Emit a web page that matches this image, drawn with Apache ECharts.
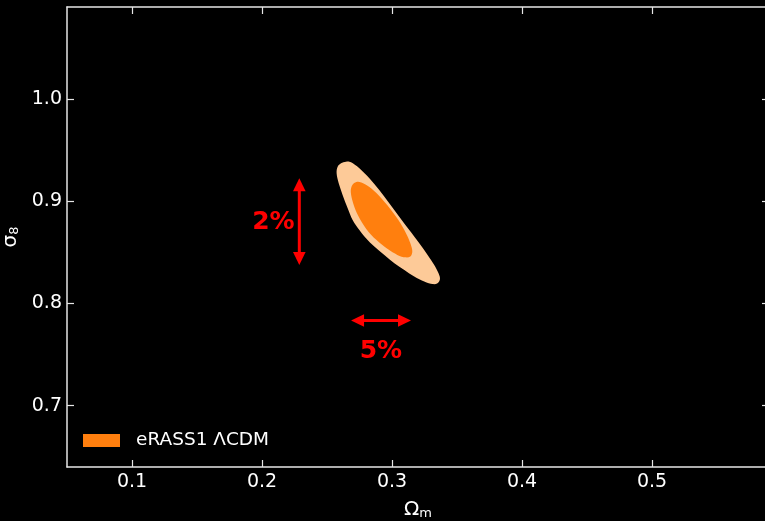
<!DOCTYPE html>
<html>
<head>
<meta charset="utf-8">
<script src="https://cdn.jsdelivr.net/npm/echarts@6/dist/echarts.min.js"></script>
<style>
  html, body { margin: 0; padding: 0; background: #000; }
  #chart { width: 765px; height: 521px; }
</style>
</head>
<body>
<div id="chart"></div>
<script>
// Axis ticks
const xTicks = [0.1, 0.2, 0.3, 0.4, 0.5];
const yTicks = [0.7, 0.8, 0.9, 1.0];

// eRASS1 LCDM posterior contours in (Omega_m, sigma_8): outer (95%) and inner (68%)
const outerContour = [
  [0.2574, 0.9274], [0.2582, 0.9338], [0.2608, 0.9371], [0.2646, 0.9387],
  [0.2685, 0.9381], [0.2749, 0.9323], [0.2826, 0.9225], [0.2902, 0.9110],
  [0.2979, 0.8980], [0.3056, 0.8849], [0.3133, 0.8719], [0.3210, 0.8589],
  [0.3274, 0.8475], [0.3325, 0.8377], [0.3358, 0.8296], [0.3369, 0.8240],
  [0.3350, 0.8198], [0.3312, 0.8189], [0.3248, 0.8214], [0.3171, 0.8263],
  [0.3095, 0.8328], [0.3018, 0.8394], [0.2941, 0.8475], [0.2864, 0.8556],
  [0.2800, 0.8638], [0.2749, 0.8719], [0.2697, 0.8817], [0.2659, 0.8932],
  [0.2620, 0.9062], [0.2590, 0.9176]
];
const innerContour = [
  [0.2683, 0.9091], [0.2695, 0.9159], [0.2726, 0.9189], [0.2764, 0.9184],
  [0.2826, 0.9140], [0.2902, 0.9052], [0.2987, 0.8925], [0.3064, 0.8788],
  [0.3118, 0.8661], [0.3148, 0.8563], [0.3156, 0.8504], [0.3141, 0.8460],
  [0.3102, 0.8451], [0.3041, 0.8475], [0.2964, 0.8534], [0.2879, 0.8622],
  [0.2802, 0.8729], [0.2741, 0.8856], [0.2703, 0.8974]
];
const contourLevels = [outerContour, innerContour];
const contourColors = ['#fdca98', '#ff7f0e'];

// Precision arrows: [x1, y1, x2, y2]
const arrows = [
  [0.2287, 0.8377, 0.2287, 0.9225],
  [0.2685, 0.7833, 0.3146, 0.7833]
];
const arrowLabelPos = [[0.2088, 0.8788], [0.2915, 0.7530]];
const arrowLabelText = ['2%', '5%'];

const seriesName = 'eRASS1 \u039BCDM';
const FONT = '"DejaVu Sans", "Liberation Sans", sans-serif';
const AXIS_COLOR = '#e6e6e6';

// Closed Catmull-Rom curve through pixel points, returned as SVG path data
function closedSplinePath(pts) {
  const n = pts.length;
  const f = v => v.toFixed(2);
  let d = 'M' + f(pts[0][0]) + ' ' + f(pts[0][1]);
  for (let i = 0; i < n; i++) {
    const p0 = pts[(i - 1 + n) % n], p1 = pts[i], p2 = pts[(i + 1) % n], p3 = pts[(i + 2) % n];
    const c1 = [p1[0] + (p2[0] - p0[0]) / 6, p1[1] + (p2[1] - p0[1]) / 6];
    const c2 = [p2[0] - (p3[0] - p1[0]) / 6, p2[1] - (p3[1] - p1[1]) / 6];
    d += ' C' + f(c1[0]) + ' ' + f(c1[1]) + ' ' + f(c2[0]) + ' ' + f(c2[1]) + ' ' + f(p2[0]) + ' ' + f(p2[1]);
  }
  return d + ' Z';
}

const chart = echarts.init(document.getElementById('chart'), null, { renderer: 'canvas' });

function baseX(pos, showLabels) {
  return {
    type: 'value', position: pos, min: 0.05, max: 0.59,
    axisLine: { show: true, onZero: false, lineStyle: { color: AXIS_COLOR, width: 1.5 } },
    axisTick: { show: true, inside: true, length: 7, customValues: xTicks,
                lineStyle: { color: AXIS_COLOR, width: 1.2 } },
    axisLabel: { show: showLabels, customValues: xTicks, margin: 6, color: '#ffffff',
                 fontSize: 19, fontFamily: FONT, formatter: v => v.toFixed(1) },
    splitLine: { show: false }
  };
}
function baseY(pos, showLabels) {
  return {
    type: 'value', position: pos, min: 0.64, max: 1.09,
    axisLine: { show: true, onZero: false, lineStyle: { color: AXIS_COLOR, width: 1.5 } },
    axisTick: { show: true, inside: true, length: 7, customValues: yTicks,
                lineStyle: { color: AXIS_COLOR, width: 1.2 } },
    axisLabel: { show: showLabels, customValues: yTicks, margin: 5, color: '#ffffff',
                 fontSize: 19, fontFamily: FONT, formatter: v => v.toFixed(1) },
    splitLine: { show: false }
  };
}

const nameRich = {
  a: { fontSize: 20, lineHeight: 22, fontFamily: FONT, color: '#ffffff', verticalAlign: 'bottom' },
  b: { fontSize: 13, lineHeight: 13, padding: [8, 0, 0, 0], fontFamily: FONT, color: '#ffffff', verticalAlign: 'bottom' }
};

const xMain = Object.assign(baseX('bottom', true), {
  name: '{a|\u03A9}{b|m}', nameLocation: 'middle', nameGap: 31,
  nameTextStyle: { rich: nameRich }
});
const yMain = Object.assign(baseY('left', true), {
  name: '{a|\u03C3}{b|8}', nameLocation: 'middle', nameGap: 35,
  nameTextStyle: { rich: nameRich }
});

const option = {
  backgroundColor: '#000000',
  animation: false,
  grid: { left: 67, top: 7, width: 702, height: 460, containLabel: false, outerBoundsMode: 'none' },
  xAxis: [xMain, baseX('top', false)],
  yAxis: [yMain, baseY('right', false)],
  legend: {
    left: 83, top: 431, padding: 0,
    itemWidth: 37, itemHeight: 13,
    textStyle: { color: '#ffffff', fontSize: 18.5, fontFamily: FONT, padding: [0, 0, 0, 11] },
    data: [{ name: seriesName, icon: 'rect', itemStyle: { color: '#ff7f0e' } }]
  },
  series: [
    {
      name: seriesName,
      type: 'custom',
      xAxisIndex: 0, yAxisIndex: 0,
      itemStyle: { color: '#ff7f0e' },
      data: contourLevels.map((_, i) => [i]),
      encode: { x: -1, y: -1 },
      renderItem: function (params, api) {
        const pts = contourLevels[params.dataIndex].map(p => api.coord(p));
        return {
          type: 'path',
          shape: { pathData: closedSplinePath(pts) },
          style: { fill: contourColors[params.dataIndex], stroke: null }
        };
      }
    },
    {
      name: 'arrows',
      type: 'custom',
      xAxisIndex: 0, yAxisIndex: 0,
      data: arrows,
      encode: { x: [0, 2], y: [1, 3] },
      renderItem: function (params, api) {
        const a = api.coord([api.value(0), api.value(1)]);
        const b = api.coord([api.value(2), api.value(3)]);
        const dx = b[0] - a[0], dy = b[1] - a[1];
        const L = Math.hypot(dx, dy);
        const ux = dx / L, uy = dy / L, nx = -uy, ny = ux;
        const hl = 13, hw = 6.3;
        const red = '#ff0000';
        return {
          type: 'group',
          children: [
            { type: 'line',
              shape: { x1: a[0] + ux * hl * 0.8, y1: a[1] + uy * hl * 0.8,
                       x2: b[0] - ux * hl * 0.8, y2: b[1] - uy * hl * 0.8 },
              style: { stroke: red, lineWidth: 3 } },
            { type: 'polygon',
              shape: { points: [a, [a[0] + ux * hl + nx * hw, a[1] + uy * hl + ny * hw],
                                   [a[0] + ux * hl - nx * hw, a[1] + uy * hl - ny * hw]] },
              style: { fill: red } },
            { type: 'polygon',
              shape: { points: [b, [b[0] - ux * hl + nx * hw, b[1] - uy * hl + ny * hw],
                                   [b[0] - ux * hl - nx * hw, b[1] - uy * hl - ny * hw]] },
              style: { fill: red } }
          ]
        };
      }
    },
    {
      name: 'arrow labels',
      type: 'custom',
      xAxisIndex: 0, yAxisIndex: 0,
      data: arrowLabelPos,
      renderItem: function (params, api) {
        const p = api.coord([api.value(0), api.value(1)]);
        return {
          type: 'text', x: p[0], y: p[1],
          style: { text: arrowLabelText[params.dataIndex], fill: '#ff0000',
                   font: 'bold 25px ' + FONT, align: 'center', verticalAlign: 'middle' }
        };
      }
    }
  ]
};

chart.setOption(option);
</script>
</body>
</html>
